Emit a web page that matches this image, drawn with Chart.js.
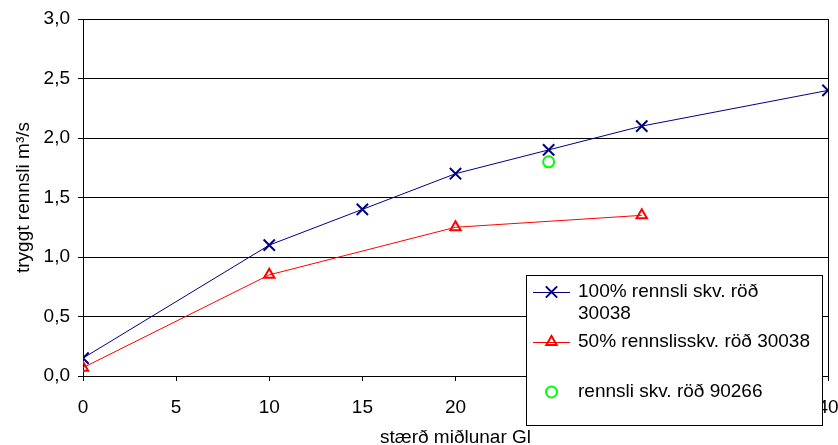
<!DOCTYPE html>
<html>
<head>
<meta charset="utf-8">
<script src="https://cdn.jsdelivr.net/npm/chart.js@4/dist/chart.umd.min.js"></script>
<style>
  html, body { margin: 0; padding: 0; background: #fff; }
  #wrap { width: 838px; height: 445px; }
</style>
</head>
<body>
<div id="wrap"><canvas id="rennsliChart" width="838" height="445"></canvas></div>
<script>
// gögn lesin af myndinni
var midlun100 = [0, 10, 15, 20, 25, 30, 40];
var rennsli100 = [0.15, 1.1, 1.4, 1.7, 1.9, 2.1, 2.4];
var midlun50 = [0, 10, 20, 30];
var rennsli50 = [0.07, 0.85, 1.25, 1.35];
var midlun90266 = [25];
var rennsli90266 = [1.8];

var seriesNames = ['100% rennsli skv. röð 30038', '50% rennslisskv. röð 30038', 'rennsli skv. röð 90266'];
var legendLines = [['100% rennsli skv. röð', '30038'], ['50% rennslisskv. röð 30038'], ['rennsli skv. röð 90266']];

var FONT = "Arial, 'Liberation Sans', sans-serif";

var toPoints = function toPoints(xs, ys) {
   return xs.map((x, i) => ({x: x, y: ys[i]}));
};

var frameAndLegend = {
   id: 'frameAndLegend',
   afterDraw: function(chart) {
      var ctx = chart.ctx;
      var area = chart.chartArea;
      ctx.save();
      // right border of plot
      ctx.strokeStyle = '#000';
      ctx.lineWidth = 1;
      ctx.beginPath();
      ctx.moveTo(Math.round(area.right) + 0.5, area.top);
      ctx.lineTo(Math.round(area.right) + 0.5, area.bottom);
      ctx.stroke();

      // legend box
      var bx = 526.5, by = 275.5, bw = 296, bh = 150;
      ctx.fillStyle = '#fff';
      ctx.fillRect(bx, by, bw, bh);
      ctx.strokeRect(bx, by, bw, bh);

      var rows = [292, 342, 392];
      ctx.font = '19px ' + FONT;
      ctx.textBaseline = 'middle';
      ctx.textAlign = 'left';
      chart.data.datasets.forEach(function(ds, i) {
         var y = rows[i];
         if (ds.showLine !== false) {
            ctx.strokeStyle = ds.borderColor;
            ctx.lineWidth = 1;
            ctx.beginPath();
            ctx.moveTo(533, y + 0.5);
            ctx.lineTo(570, y + 0.5);
            ctx.stroke();
         }
         ctx.save();
         ctx.strokeStyle = ds.pointBorderColor;
         ctx.fillStyle = ds.backgroundColor;
         ctx.lineWidth = ds.pointBorderWidth;
         Chart.helpers.drawPoint(ctx, {
            pointStyle: ds.pointStyle,
            radius: ds.pointRadius,
            borderWidth: ds.pointBorderWidth
         }, 551.5, y);
         ctx.restore();
         ctx.fillStyle = '#000';
         legendLines[i].forEach(function(line, j) {
            ctx.fillText(line, 578, y + j * 22);
         });
      });
      ctx.restore();
   }
};

var chartConfig = {
   type: 'line',
   data: {
      datasets: [{
         label: seriesNames[0],
         data: toPoints(midlun100, rennsli100),
         borderColor: '#000080',
         backgroundColor: '#000080',
         borderWidth: 1,
         pointStyle: 'crossRot',
         pointRadius: 8,
         pointBorderWidth: 2,
         pointBorderColor: '#000080'
      }, {
         label: seriesNames[1],
         data: toPoints(midlun50, rennsli50),
         borderColor: '#ff0000',
         backgroundColor: 'rgba(0,0,0,0)',
         borderWidth: 1,
         pointStyle: 'triangle',
         pointRadius: 6,
         pointBorderWidth: 2,
         pointBorderColor: '#ff0000'
      }, {
         label: seriesNames[2],
         data: toPoints(midlun90266, rennsli90266),
         showLine: false,
         borderColor: '#00ff00',
         backgroundColor: 'rgba(0,0,0,0)',
         pointStyle: 'circle',
         pointRadius: 5.5,
         pointBorderWidth: 2,
         pointBorderColor: '#00ff00'
      }]
   },
   options: {
      responsive: false,
      animation: false,
      layout: { padding: { top: 19, right: 8, left: 0, bottom: 0 } },
      elements: { line: { tension: 0 } },
      plugins: {
         legend: { display: false },
         tooltip: { enabled: false }
      },
      scales: {
         x: {
            type: 'linear',
            min: 0,
            max: 40,
            afterFit: function(scale) {
               scale.height = 69;
               scale.paddingLeft = 0;
               scale.paddingRight = 0;
            },
            ticks: {
               stepSize: 5,
               color: '#000',
               font: { family: FONT, size: 19 },
               padding: 15,
               maxRotation: 0
            },
            grid: {
               drawOnChartArea: false,
               drawTicks: true,
               tickLength: 5,
               color: '#000'
            },
            border: { display: true, color: '#000', width: 1 },
            title: {
               display: true,
               text: 'stærð miðlunar Gl',
               color: '#000',
               font: { family: FONT, size: 19, lineHeight: 1 },
               padding: { top: 0, bottom: -2 }
            }
         },
         y: {
            min: 0,
            max: 3,
            afterFit: function(scale) {
               scale.width = 83;
               scale.paddingTop = 0;
               scale.paddingBottom = 0;
            },
            ticks: {
               stepSize: 0.5,
               color: '#000',
               font: { family: FONT, size: 19 },
               padding: 8,
               callback: function(value) {
                  return value.toFixed(1).replace('.', ',');
               }
            },
            grid: {
               color: '#000',
               lineWidth: 1,
               drawTicks: true,
               tickLength: 5
            },
            border: { display: true, color: '#000', width: 1 },
            title: {
               display: true,
               text: 'tryggt rennsli m³/s',
               color: '#000',
               font: { family: FONT, size: 19 },
               padding: { top: 12, bottom: 4 }
            }
         }
      }
   },
   plugins: [frameAndLegend]
};

var chart = new Chart(document.getElementById('rennsliChart'), chartConfig);
</script>
</body>
</html>
